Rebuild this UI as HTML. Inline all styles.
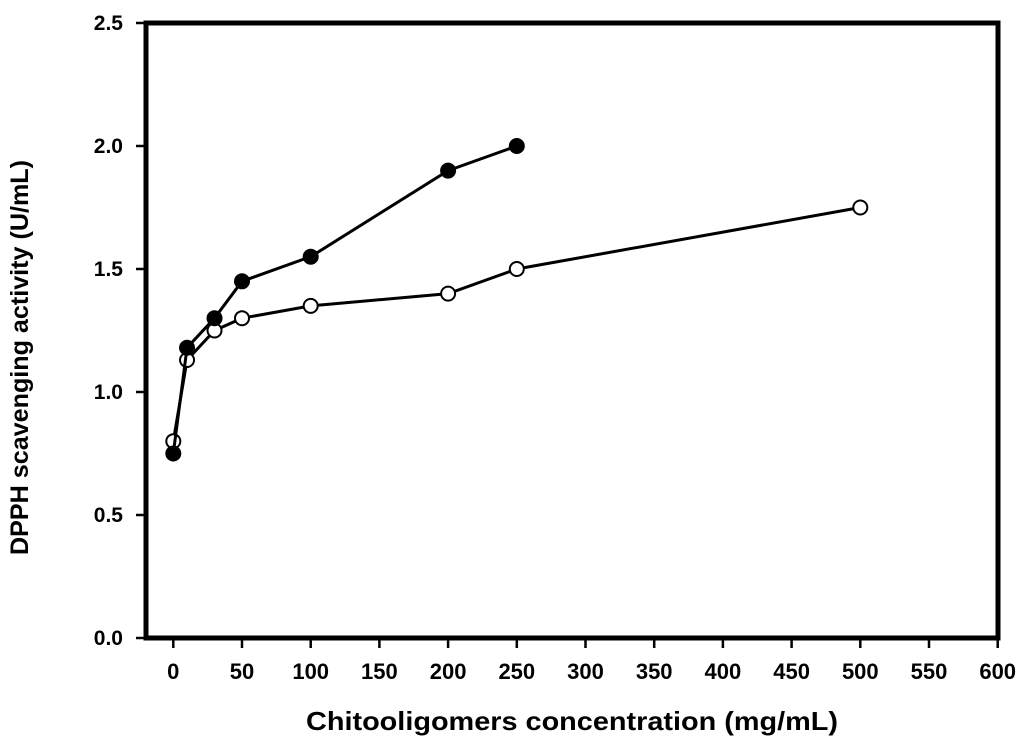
<!DOCTYPE html>
<html><head><meta charset="utf-8"><style>body{margin:0;background:#fff}svg{display:block;font-family:"Liberation Sans",Arial,sans-serif;font-weight:bold}</style></head>
<body>
<svg id="chart" width="1024" height="751" viewBox="0 0 1024 751"></svg>
<script>
const xTicks=[0,50,100,150,200,250,300,350,400,450,500,550,600];
const yTicks=[0.0,0.5,1.0,1.5,2.0,2.5];
const filledX=[0,10,30,50,100,200,250];
const filledY=[0.75,1.18,1.30,1.45,1.55,1.90,2.00];
const openX=[0,10,30,50,100,200,250,500];
const openY=[0.80,1.13,1.25,1.30,1.35,1.40,1.50,1.75];
const svg=document.getElementById('chart');const NS='http://www.w3.org/2000/svg';
const X=v=>173.3+v*(310.7-173.3)/100;
const Y=v=>638-v*(638-23)/2.5;
function el(t,a,p){const e=document.createElementNS(NS,t);for(const k in a)e.setAttribute(k,a[k]);(p||svg).appendChild(e);return e;}
const frame=el('rect',{x:146,y:23,width:852,height:615,fill:'none',stroke:'#000','stroke-width':5});


xTicks.forEach(t=>{const l=el('line',{x1:X(t),x2:X(t),y1:638,y2:648,stroke:'#000','stroke-width':2.5});


const tx=el('text',{x:X(t),y:679,'text-anchor':'middle','font-size':22});tx.textContent=t;

});
yTicks.forEach(t=>{const l=el('line',{x1:136,x2:146,y1:Y(t),y2:Y(t),stroke:'#000','stroke-width':2.5});


const tx=el('text',{x:123,y:Y(t)+7,'text-anchor':'end','font-size':21});tx.textContent=t.toFixed(1);

});
function series(xs,ys,fill,name){const pts=xs.map((x,i)=>X(x)+','+Y(ys[i])).join(' ');
const pl=el('polyline',{points:pts,fill:'none',stroke:'#000','stroke-width':3});


xs.forEach((x,i)=>{const c=el('circle',{cx:X(x),cy:Y(ys[i]),r:7,fill:fill,stroke:'#000','stroke-width':2});

});}
series(openX,openY,'#fff','open-series');
series(filledX,filledY,'#000','filled-series');
const xt=el('text',{x:306,y:730,'font-size':26,textLength:532,lengthAdjust:'spacingAndGlyphs'});xt.textContent='Chitooligomers concentration (mg/mL)';


const yt=el('text',{x:0,y:0,'font-size':25,textLength:395,lengthAdjust:'spacingAndGlyphs',transform:'translate(28,555) rotate(-90)'});yt.textContent='DPPH scavenging activity (U/mL)';


</script>
</body></html>
